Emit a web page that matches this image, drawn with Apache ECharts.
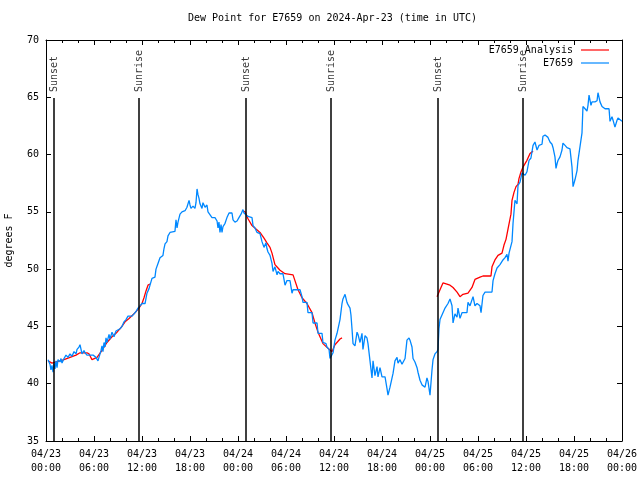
<!DOCTYPE html>
<html>
<head>
<meta charset="utf-8">
<script src="https://cdn.jsdelivr.net/npm/echarts@6/dist/echarts.min.js"></script>
<style>html,body{margin:0;padding:0;background:#fff}#c{width:640px;height:480px}</style>
</head>
<body>
<div id="c"></div>
<script>
// hours since 2024-04-23 00:00 UTC, dew point (deg F)
var observed = [[0.25,42.1],[0.5,41.7],[0.62,41.2],[0.75,41.6],[0.88,41.0],[1.0,41.8],[1.12,41.3],[1.25,42.0],[1.38,41.4],[1.5,42.1],[1.75,41.9],[1.88,42.2],[2.0,41.8],[2.25,42.2],[2.5,42.5],[2.75,42.3],[3.0,42.6],[3.25,42.4],[3.5,42.8],[3.75,42.6],[3.88,43.0],[4.12,43.2],[4.25,43.4],[4.38,43.0],[4.5,42.6],[4.75,42.9],[4.88,42.7],[5.12,42.5],[5.5,42.5],[5.88,42.5],[6.25,42.3],[6.5,42.0],[6.62,42.3],[6.88,42.9],[7.0,43.3],[7.12,42.8],[7.25,43.6],[7.38,43.2],[7.5,44.0],[7.62,43.6],[7.88,44.3],[8.0,43.9],[8.25,44.5],[8.5,44.1],[8.75,44.6],[9.0,44.7],[9.25,44.8],[9.5,45.0],[9.75,45.4],[10.0,45.6],[10.25,45.9],[10.5,46.0],[10.75,45.9],[11.0,46.1],[11.25,46.3],[11.5,46.6],[11.75,46.8],[12.0,47.0],[12.38,47.0],[12.62,47.9],[12.88,48.3],[13.0,48.6],[13.25,49.2],[13.62,49.3],[13.75,50.0],[14.0,50.5],[14.25,51.0],[14.62,51.2],[14.75,51.8],[14.88,52.2],[15.12,52.4],[15.25,52.9],[15.5,53.2],[15.75,53.2],[16.12,53.3],[16.25,54.3],[16.38,53.6],[16.5,54.1],[16.75,54.8],[17.0,55.0],[17.38,55.1],[17.62,55.4],[17.88,56.0],[18.0,55.6],[18.12,55.3],[18.38,55.5],[18.62,55.3],[18.75,55.8],[18.88,57.0],[19.0,56.5],[19.12,56.2],[19.25,55.7],[19.5,55.3],[19.62,55.8],[19.88,55.4],[20.12,55.6],[20.25,55.0],[20.5,54.9],[20.75,54.5],[21.12,54.5],[21.38,54.2],[21.5,53.6],[21.62,54.1],[21.75,53.2],[21.88,53.9],[22.0,53.2],[22.12,53.7],[22.38,54.0],[22.62,54.5],[22.88,54.9],[23.25,54.9],[23.38,54.3],[23.62,54.1],[23.88,54.2],[24.12,54.5],[24.38,54.8],[24.62,55.2],[24.75,54.9],[24.88,55.0],[25.0,54.8],[25.25,54.6],[25.5,54.5],[25.75,54.5],[25.88,53.8],[26.12,53.6],[26.38,53.2],[26.75,53.1],[27.0,52.4],[27.25,51.9],[27.5,52.3],[27.62,51.8],[27.75,51.5],[28.0,51.2],[28.25,50.5],[28.38,49.8],[28.62,50.2],[28.88,49.5],[29.0,49.8],[29.25,49.6],[29.62,49.6],[29.88,48.6],[30.12,49.0],[30.5,49.0],[30.75,47.9],[30.88,48.2],[31.75,48.2],[32.0,47.6],[32.12,47.1],[32.62,47.1],[32.75,46.2],[33.25,46.2],[33.38,45.3],[33.88,45.3],[34.0,44.4],[34.5,44.4],[34.62,43.6],[35.0,43.5],[35.12,43.2],[35.38,43.0],[35.5,42.2],[35.75,42.2],[35.88,42.7],[36.12,43.8],[36.38,44.4],[36.62,44.4],[36.75,45.6],[37.0,47.0],[37.12,47.4],[37.38,47.8],[37.62,47.1],[37.75,46.9],[38.0,46.6],[38.12,46.0],[38.25,44.8],[38.38,43.5],[38.62,43.3],[38.88,44.5],[39.0,44.3],[39.25,43.6],[39.5,44.4],[39.62,43.0],[39.88,44.2],[40.12,44.0],[40.25,43.5],[40.5,42.0],[40.75,40.5],[40.88,42.0],[41.12,40.7],[41.38,41.5],[41.5,40.6],[41.75,41.4],[42.0,40.6],[42.38,40.6],[42.62,39.6],[42.75,39.0],[43.0,39.7],[43.25,39.8],[43.38,40.9],[43.62,42.0],[43.88,42.3],[44.0,41.8],[44.25,42.1],[44.5,41.7],[44.62,41.8],[44.88,42.2],[45.12,43.8],[45.38,44.0],[45.5,43.8],[45.75,43.2],[45.88,42.2],[46.12,41.9],[46.38,41.4],[46.5,41.0],[46.75,40.3],[47.0,39.9],[47.38,39.7],[47.62,40.5],[47.75,40.2],[48.0,39.0],[48.25,41.2],[48.38,42.1],[48.62,42.6],[48.88,42.8],[49.0,43.0],[49.12,44.8],[49.25,45.6],[49.62,46.2],[49.88,46.6],[50.12,46.5],[50.25,47.0],[50.5,47.4],[50.75,46.8],[50.88,45.3],[51.12,46.1],[51.38,45.8],[51.5,46.6],[51.75,45.7],[52.0,46.2],[52.62,46.2],[52.75,47.1],[53.0,46.8],[53.25,46.9],[53.38,47.6],[53.62,46.8],[53.88,47.0],[54.25,46.8],[54.38,46.2],[54.62,47.7],[54.88,48.0],[55.75,48.0],[55.88,49.0],[56.12,49.6],[56.38,50.1],[56.75,50.4],[57.0,50.5],[57.12,50.8],[57.38,51.0],[57.62,51.3],[57.75,50.7],[57.88,51.4],[58.12,51.4],[58.25,52.4],[58.38,54.0],[58.62,56.0],[58.88,55.7],[59.0,57.3],[59.25,57.6],[59.5,58.4],[59.88,58.2],[60.12,58.5],[60.38,59.5],[60.62,59.7],[60.88,60.8],[61.12,61.1],[61.38,60.4],[61.62,60.8],[62.0,60.9],[62.12,61.6],[62.38,61.7],[62.62,61.7],[62.75,61.5],[63.0,61.1],[63.25,60.9],[63.38,60.6],[63.62,59.8],[63.75,58.8],[63.88,59.2],[64.0,59.5],[64.25,59.8],[64.5,60.4],[64.62,61.0],[64.88,60.8],[65.12,60.6],[65.5,60.5],[65.75,58.9],[65.88,57.2],[66.12,57.8],[66.38,58.6],[66.5,59.5],[66.75,60.7],[67.0,61.9],[67.12,64.2],[67.38,64.0],[67.62,63.8],[67.75,64.3],[67.88,65.2],[68.12,64.3],[68.25,64.6],[68.62,64.6],[68.88,64.7],[69.0,65.4],[69.25,64.6],[69.5,64.2],[69.88,64.0],[70.38,64.0],[70.5,62.9],[70.75,63.3],[70.88,63.0],[71.12,62.4],[71.38,63.0],[71.5,63.2],[71.75,63.2],[72.0,62.9]];

var analysisRun1 = [[0.25,42.0],[0.75,41.8],[1.25,41.9],[1.75,42.0],[2.25,42.1],[3.0,42.3],[3.75,42.5],[4.25,42.7],[5.12,42.7],[5.38,42.6],[5.75,42.1],[6.0,42.2],[6.38,42.3],[6.62,42.2],[7.0,42.9],[7.62,43.6],[8.25,44.1],[8.88,44.5],[9.38,44.9],[9.88,45.4],[10.38,45.7],[11.0,46.1],[11.62,46.6],[12.0,47.0],[12.25,47.5],[12.5,48.1],[12.75,48.6],[13.0,48.7]];
var analysisRun2 = [[24.62,55.1],[24.88,55.0],[25.25,54.4],[25.75,53.8],[26.25,53.5],[26.75,53.2],[27.25,52.7],[27.62,52.3],[28.0,51.9],[28.25,51.4],[28.62,50.4],[29.0,50.1],[29.25,49.9],[29.88,49.6],[30.88,49.5],[31.12,49.0],[31.5,48.2],[32.0,47.5],[32.62,47.0],[33.25,46.2],[33.62,45.3],[34.0,44.5],[34.62,43.5],[35.25,43.1],[35.75,42.8],[36.12,43.4],[36.75,43.9],[37.0,44.0]];
var analysisRun3 = [[48.88,47.6],[49.25,48.2],[49.62,48.8],[50.12,48.7],[50.5,48.6],[50.88,48.4],[51.38,48.0],[51.75,47.6],[52.12,47.8],[52.75,47.9],[53.25,48.4],[53.62,49.1],[54.25,49.3],[54.62,49.4],[55.62,49.4],[55.75,50.2],[56.12,50.8],[56.5,51.2],[57.0,51.4],[57.25,52.1],[57.5,52.6],[57.75,53.5],[58.0,53.6],[58.12,54.8],[58.25,56.0],[58.5,56.7],[58.75,57.2],[59.0,57.4],[59.12,57.9],[59.38,58.5],[59.62,58.9],[60.12,59.5],[60.5,60.1],[60.88,60.3]];

var sunHours = [1.0, 11.62, 25.0, 35.62, 49.0, 59.62];
var sunLabels = ['Sunset', 'Sunrise', 'Sunset', 'Sunrise', 'Sunset', 'Sunrise'];
var xTickLabels = ['04/23\n00:00','04/23\n06:00','04/23\n12:00','04/23\n18:00','04/24\n00:00','04/24\n06:00','04/24\n12:00','04/24\n18:00','04/25\n00:00','04/25\n06:00','04/25\n12:00','04/25\n18:00','04/26\n00:00'];

var FONT = 'DejaVu Sans Mono';
var RED = '#ff0000', BLUE = '#0088ff';
var sunLineTop = 64.94, sunLabelBase = 65.37;

var chart = echarts.init(document.getElementById('c'), null, {renderer: 'canvas'});

function xAx(pos, showLabel) {
  return {
    type: 'value', position: pos, min: 0, max: 72, interval: 6,
    axisLine: {show: true, onZero: false, lineStyle: {color: '#000', width: 1}},
    axisTick: {show: true, inside: true, length: 5, lineStyle: {color: '#000'}},
    minorTick: {show: true, splitNumber: 3, length: 3, lineStyle: {color: '#000'}},
    splitLine: {show: false},
    axisLabel: {show: showLabel, color: '#000', fontFamily: FONT, fontSize: 10, lineHeight: 14, margin: 6,
      formatter: function (v) { return xTickLabels[Math.round(v / 6)]; }}
  };
}
function yAx(pos, showLabel) {
  return {
    type: 'value', position: pos, min: 35, max: 70, interval: 5,
    name: showLabel ? 'degrees F' : '', nameLocation: 'middle', nameGap: 32,
    nameTextStyle: {color: '#000', fontFamily: FONT, fontSize: 10},
    axisLine: {show: true, onZero: false, lineStyle: {color: '#000', width: 1}},
    axisTick: {show: true, inside: true, length: 5, lineStyle: {color: '#000'}},
    splitLine: {show: false},
    axisLabel: {show: showLabel, color: '#000', fontFamily: FONT, fontSize: 10, margin: 7}
  };
}

var sunLineData = sunHours.map(function (h) {
  return [{coord: [h, 35]}, {coord: [h, sunLineTop]}];
});
var sunLabelData = sunHours.map(function (h, i) {
  return {value: [h, sunLabelBase], name: sunLabels[i]};
});

var analysisStyle = {type: 'line', name: 'E7659 Analysis', symbol: 'none', showSymbol: false,
  lineStyle: {color: RED, width: 1.3}, itemStyle: {color: RED}, animation: false, z: 2};

chart.setOption({
  animation: false,
  backgroundColor: '#fff',
  textStyle: {fontFamily: FONT},
  title: {text: 'Dew Point for E7659 on 2024-Apr-23 (time in UTC)', left: 188, top: 13, padding: 0,
    textStyle: {color: '#000', fontFamily: FONT, fontSize: 10, fontWeight: 'normal'}},
  legend: {
    data: ['E7659 Analysis', 'E7659'], orient: 'vertical', right: 26, top: 40, align: 'right',
    itemWidth: 28, itemHeight: 10, itemGap: 3, icon: 'path://M0,4.4 L28,4.4 L28,5.6 L0,5.6 Z',
    textStyle: {color: '#000', fontFamily: FONT, fontSize: 10, padding: [0, 3, 0, 0]}
  },
  grid: {left: 46, right: 18, top: 40, bottom: 39, containLabel: false, outerBoundsMode: 'none'},
  xAxis: [xAx('bottom', true), xAx('top', false)],
  yAxis: [yAx('left', true), yAx('right', false)],
  series: [
    Object.assign({}, analysisStyle, {data: analysisRun1}),
    Object.assign({}, analysisStyle, {data: analysisRun2}),
    Object.assign({}, analysisStyle, {data: analysisRun3}),
    {type: 'line', name: 'E7659', data: observed, symbol: 'none', showSymbol: false,
      lineStyle: {color: BLUE, width: 1.3}, itemStyle: {color: BLUE}, z: 3},
    {type: 'line', name: 'sun', data: [], symbol: 'none', z: 1,
      markLine: {silent: true, symbol: 'none', animation: false,
        lineStyle: {color: '#000', width: 1.5, type: 'solid'}, label: {show: false},
        data: sunLineData}},
    {type: 'scatter', name: 'sunlabels', data: sunLabelData, symbolSize: 0.01, z: 4,
      itemStyle: {color: 'transparent'},
      label: {show: true, position: 'inside', rotate: 90, align: 'left', verticalAlign: 'middle',
        color: '#000', fontFamily: FONT, fontSize: 10, offset: [1, 0],
        formatter: function (p) { return p.name; }}}
  ]
});
</script>
</body>
</html>
